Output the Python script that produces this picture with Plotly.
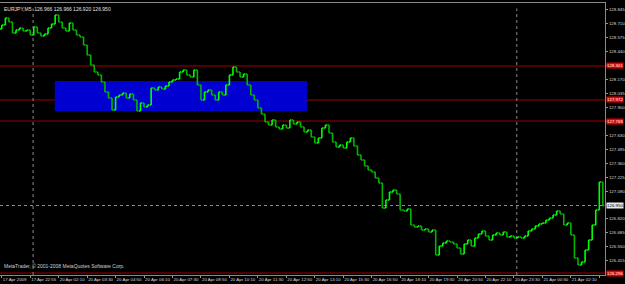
import plotly.graph_objects as go

# Close prices, one value per two M5 bars
closes = [
    128.698, 128.766, 128.727, 128.620, 128.650, 128.669, 128.640, 128.650, 128.601, 128.679,
    128.620, 128.591, 128.611, 128.669, 128.708, 128.795, 128.727, 128.669, 128.640, 128.717,
    128.650, 128.601, 128.582, 128.504, 128.407, 128.311, 128.243, 128.214, 128.146, 128.049,
    127.991, 127.875, 128.001, 128.020, 128.039, 127.991, 128.030, 127.972, 127.865, 127.943,
    127.904, 127.923, 128.088, 128.068, 128.098, 128.078, 128.107, 128.146, 128.165, 128.175,
    128.243, 128.262, 128.214, 128.194, 128.262, 128.117, 127.972, 128.049, 128.068, 128.020,
    127.972, 128.049, 128.020, 128.117, 128.214, 128.291, 128.243, 128.194, 128.223, 128.117,
    128.020, 127.972, 127.894, 127.836, 127.759, 127.730, 127.778, 127.710, 127.691, 127.730,
    127.700, 127.778, 127.739, 127.759, 127.710, 127.662, 127.681, 127.613, 127.555, 127.604,
    127.700, 127.730, 127.652, 127.565, 127.516, 127.536, 127.507, 127.565, 127.604, 127.526,
    127.439, 127.391, 127.332, 127.294, 127.274, 127.216, 127.168, 126.926, 127.003, 127.081,
    127.100, 127.061, 126.906, 126.897, 126.916, 126.761, 126.742, 126.751, 126.713, 126.722,
    126.693, 126.713, 126.471, 126.558, 126.587, 126.606, 126.597, 126.577, 126.538, 126.480,
    126.577, 126.616, 126.558, 126.635, 126.674, 126.703, 126.655, 126.616, 126.664, 126.684,
    126.664, 126.693, 126.645, 126.655, 126.635, 126.645, 126.635, 126.655, 126.703, 126.722,
    126.751, 126.771, 126.781, 126.810, 126.829, 126.858, 126.897, 126.868, 126.761, 126.781,
    126.664, 126.442, 126.374, 126.403, 126.519, 126.616, 126.761, 126.906, 127.178, 126.950,
]
first_open = 128.660

# Axis labels
x_tick_labels = [
    "17 Apr 2009", "17 Apr 22:55", "20 Apr 02:10", "20 Apr 03:30", "20 Apr 04:50",
    "20 Apr 06:10", "20 Apr 07:30", "20 Apr 08:50", "20 Apr 10:10", "20 Apr 11:30",
    "20 Apr 12:50", "20 Apr 14:10", "20 Apr 15:30", "20 Apr 16:50", "20 Apr 18:10",
    "20 Apr 19:30", "20 Apr 20:50", "20 Apr 22:10", "20 Apr 23:30", "21 Apr 00:50",
    "21 Apr 02:10", "21 Apr 03:30",
]
x_tick_step = 8
y_tick_values = [128.845, 128.710, 128.575, 128.440, 128.305, 128.170, 128.035, 127.900,
                 127.765, 127.630, 127.495, 127.360, 127.225, 127.090, 126.955, 126.820,
                 126.685, 126.550, 126.415]
y_tick_hidden = [128.305, 127.765, 126.955]

# Drawn objects
level_prices = [128.301, 127.972, 127.768, 126.296]
zone_x = [14.9, 85.8]
zone_prices = [127.865, 128.156]
separator_x = [8.8, 144.8]
bid_price = 126.950
title_text = "EURJPY,M5  126.966 126.966 126.920 126.950"
copyright_text = "MetaTrader, \u00a9 2001-2008 MetaQuotes Software Corp."

FONT = "Liberation Sans"
FS = 4.4

idx = list(range(len(closes)))
opens = [first_open] + closes[:-1]
highs = [max(o, c) for o, c in zip(opens, closes)]
lows = [min(o, c) for o, c in zip(opens, closes)]

fig = go.Figure()
fig.add_trace(go.Ohlc(
    x=idx, open=opens, high=highs, low=lows, close=closes,
    increasing=dict(line=dict(color="#00ff00", width=1.6)),
    decreasing=dict(line=dict(color="#00b400", width=1.6)),
    tickwidth=0.45, hoverinfo="skip", showlegend=False,
))

shapes = []
shapes.append(dict(type="rect", xref="x", yref="y", x0=zone_x[0], x1=zone_x[1],
                   y0=zone_prices[0], y1=zone_prices[1], fillcolor="#0000d0",
                   line=dict(width=0), layer="below"))
for p in level_prices:
    shapes.append(dict(type="line", xref="paper", yref="y", x0=0, x1=1, y0=p, y1=p,
                       line=dict(color="#a00000", width=1), layer="below"))
for sx in separator_x:
    shapes.append(dict(type="line", xref="x", yref="paper", x0=sx, x1=sx, y0=0, y1=0.98,
                       line=dict(color="#8a8a8a", width=1, dash="dot"), layer="below"))
shapes.append(dict(type="line", xref="paper", yref="y", x0=0, x1=1, y0=bid_price, y1=bid_price,
                   line=dict(color="#8a8a8a", width=1, dash="dot"), layer="below"))

annotations = []
for p in level_prices:
    annotations.append(dict(xref="paper", yref="y", x=1, y=p, xanchor="left", yanchor="middle",
                            xshift=1, text=f"{p:.3f}", showarrow=False, bgcolor="#e00000",
                            font=dict(color="#ffffff", size=FS, family=FONT),
                            borderpad=0))
annotations.append(dict(xref="paper", yref="y", x=1, y=bid_price, xanchor="left", yanchor="middle",
                        xshift=1, text=f"{bid_price:.3f}", showarrow=False, bgcolor="#e8e8e8",
                        font=dict(color="#000000", size=FS, family=FONT), borderpad=0))
annotations.append(dict(xref="paper", yref="paper", x=0.004, y=0.995, xanchor="left", yanchor="top",
                        text=title_text, showarrow=False,
                        font=dict(color="#e0e0e0", size=5, family=FONT)))
annotations.append(dict(xref="paper", yref="paper", x=0.004, y=0.015, xanchor="left", yanchor="bottom",
                        text=copyright_text, showarrow=False,
                        font=dict(color="#d0d0d0", size=5, family=FONT)))

fig.update_layout(
    width=625, height=284,
    margin=dict(l=0, r=20, t=3, b=9, autoexpand=False),
    paper_bgcolor="#000000", plot_bgcolor="#000000",
    shapes=shapes, annotations=annotations,
    xaxis=dict(range=[-0.5, 169.6], showgrid=False, zeroline=False, rangeslider=dict(visible=False),
               tickvals=[i * x_tick_step for i in range(len(x_tick_labels))], ticktext=x_tick_labels,
               tickangle=0, automargin=False,
               ticks="outside", ticklen=2, tickcolor="#9a9a9a", ticklabelposition="outside right",
               tickfont=dict(color="#d8d8d8", size=FS, family=FONT),
               showline=True, linecolor="#8a8a8a", linewidth=1, mirror=True),
    yaxis=dict(range=[126.277, 128.911], side="right", showgrid=False, zeroline=False,
               automargin=False,
               tickvals=y_tick_values,
               ticktext=["" if v in y_tick_hidden else f"{v:.3f}" for v in y_tick_values],
               ticks="outside", ticklen=2, tickcolor="#9a9a9a",
               tickfont=dict(color="#d8d8d8", size=FS, family=FONT),
               showline=True, linecolor="#8a8a8a", linewidth=1, mirror=True),
    font=dict(family=FONT),
)

fig.write_html("out.html")
